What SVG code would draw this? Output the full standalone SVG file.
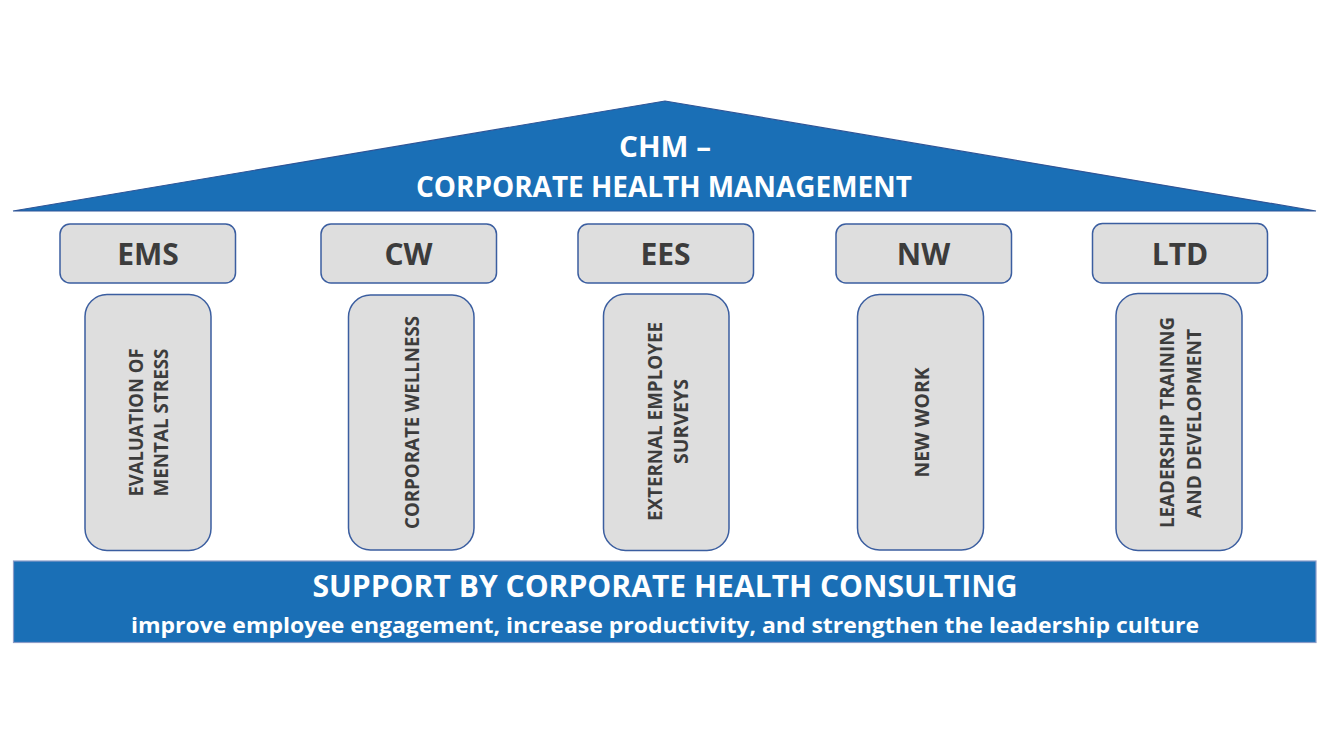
<svg xmlns="http://www.w3.org/2000/svg" width="1333" height="750" viewBox="0 0 1333 750">
<style>
.blue{fill:#1a6fb6;stroke:#2f5597;stroke-width:1.2}
.box{fill:#dedede;stroke:#3b5ea0;stroke-width:1.5}
.lbl{font-family:"Open Sans","Liberation Sans",sans-serif;font-weight:700;fill:#3c3c3c;text-anchor:middle}
.wt{font-family:"Open Sans","Liberation Sans",sans-serif;font-weight:700;fill:#ffffff;text-anchor:middle}
.pt{font-family:"Open Sans","Liberation Sans",sans-serif;font-weight:700;fill:#3c3c3c;text-anchor:middle;font-size:20px}
</style>
<rect width="1333" height="750" fill="#ffffff"/>
<g id="roof">
<polygon class="blue" points="13,211 665,101 1316,211"/>
<text class="wt" x="665" y="157" font-size="28" textLength="92" lengthAdjust="spacingAndGlyphs">CHM –</text>
<text class="wt" x="664" y="197" font-size="29" textLength="496" lengthAdjust="spacingAndGlyphs">CORPORATE HEALTH MANAGEMENT</text>
</g>
<g id="connectors"/>
<g id="ems">
<rect class="box" x="60" y="224" width="175.5" height="59" rx="10"/>
<text class="lbl" x="148" y="265" font-size="30">EMS</text>
<rect class="box" x="85" y="294.5" width="126" height="256" rx="22"/>
<text class="pt" transform="translate(143,422.5) rotate(-90)" textLength="148" lengthAdjust="spacingAndGlyphs">EVALUATION OF</text>
<text class="pt" transform="translate(168,422.5) rotate(-90)" textLength="148" lengthAdjust="spacingAndGlyphs">MENTAL STRESS</text>
</g>
<g id="cw">
<rect class="box" x="321" y="224" width="175.5" height="59" rx="10"/>
<text class="lbl" x="408.5" y="265" font-size="30">CW</text>
<rect class="box" x="348.5" y="295" width="125.5" height="255" rx="22"/>
<text class="pt" transform="translate(419,422.5) rotate(-90)" textLength="213" lengthAdjust="spacingAndGlyphs">CORPORATE WELLNESS</text>
</g>
<g id="ees">
<rect class="box" x="578" y="224" width="175.5" height="59" rx="10"/>
<text class="lbl" x="665.5" y="265" font-size="30">EES</text>
<rect class="box" x="603.5" y="294" width="125.5" height="256.5" rx="22"/>
<text class="pt" transform="translate(662,421.5) rotate(-90)" textLength="199" lengthAdjust="spacingAndGlyphs">EXTERNAL EMPLOYEE</text>
<text class="pt" transform="translate(688,421.5) rotate(-90)" textLength="85" lengthAdjust="spacingAndGlyphs">SURVEYS</text>
</g>
<g id="nw">
<rect class="box" x="836" y="224" width="175.5" height="59" rx="10"/>
<text class="lbl" x="923.5" y="265" font-size="30">NW</text>
<rect class="box" x="857.5" y="294.5" width="126" height="255.5" rx="22"/>
<text class="pt" transform="translate(929,422.5) rotate(-90)" textLength="110" lengthAdjust="spacingAndGlyphs">NEW WORK</text>
</g>
<g id="ltd">
<rect class="box" x="1092.5" y="223.5" width="175" height="59.5" rx="10"/>
<text class="lbl" x="1180" y="265" font-size="30">LTD</text>
<rect class="box" x="1116" y="293.5" width="126" height="257" rx="22"/>
<text class="pt" transform="translate(1174,422.5) rotate(-90)" textLength="211" lengthAdjust="spacingAndGlyphs">LEADERSHIP TRAINING</text>
<text class="pt" transform="translate(1201,423.5) rotate(-90)" textLength="189" lengthAdjust="spacingAndGlyphs">AND DEVELOPMENT</text>
</g>
<g id="base">
<rect x="13.5" y="561" width="1302.5" height="81.5" fill="#1a6fb6" stroke="#8a9cc8" stroke-width="1.2"/>
<text class="wt" x="665" y="597" font-size="30" textLength="705" lengthAdjust="spacingAndGlyphs">SUPPORT BY CORPORATE HEALTH CONSULTING</text>
<text class="wt" x="665" y="633" font-size="21" textLength="1068" lengthAdjust="spacingAndGlyphs">improve employee engagement, increase productivity, and strengthen the leadership culture</text>
</g>
</svg>
